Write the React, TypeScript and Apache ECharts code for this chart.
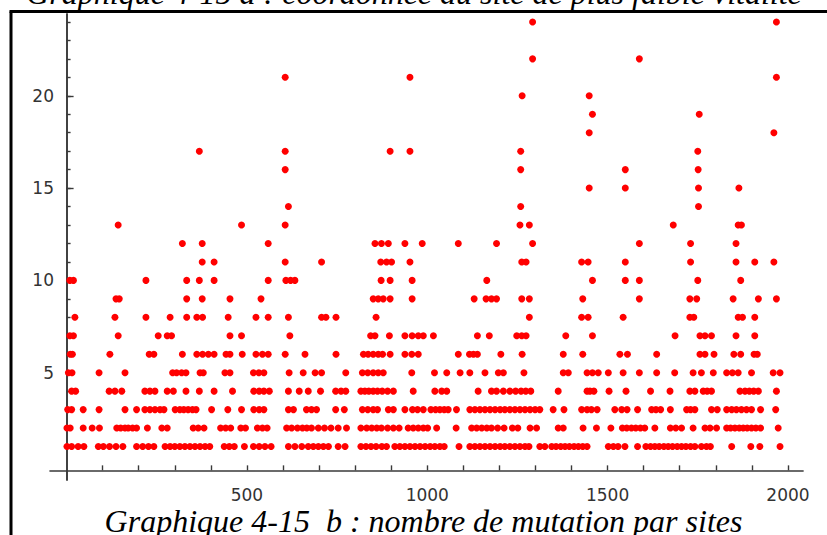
import { useEffect, useRef } from "react";
import * as echarts from "echarts";

// Site coordinates (x) for each number of mutations (y = 1 .. 24)
const sites1 = [1, 14, 32, 48, 88, 102, 119, 137, 156, 194, 211, 227, 242, 273, 287, 300, 314, 328, 342, 356, 370, 384, 397, 437, 451, 465, 493, 518, 534, 550, 567, 615, 633, 652, 670, 684, 698, 712, 726, 753, 772, 816, 830, 844, 858, 874, 887, 910, 924, 938, 952, 966, 980, 994, 1008, 1021, 1035, 1047, 1088, 1118, 1132, 1146, 1160, 1174, 1188, 1202, 1215, 1229, 1243, 1257, 1271, 1282, 1312, 1326, 1345, 1357, 1370, 1382, 1394, 1407, 1419, 1431, 1443, 1502, 1516, 1529, 1548, 1583, 1606, 1619, 1631, 1643, 1656, 1668, 1680, 1693, 1705, 1717, 1730, 1742, 1760, 1774, 1785, 1844, 1897, 1922, 1978];
const sites2 = [1, 10, 46, 71, 91, 139, 150, 162, 171, 183, 194, 224, 264, 279, 351, 365, 381, 427, 441, 455, 483, 496, 529, 543, 556, 610, 624, 640, 654, 666, 679, 698, 715, 733, 753, 776, 816, 832, 846, 860, 873, 890, 906, 922, 947, 961, 975, 989, 1001, 1026, 1080, 1123, 1137, 1151, 1165, 1178, 1195, 1213, 1236, 1251, 1285, 1303, 1363, 1377, 1432, 1469, 1509, 1541, 1553, 1566, 1578, 1591, 1603, 1631, 1674, 1689, 1705, 1737, 1770, 1784, 1802, 1830, 1841, 1853, 1865, 1876, 1887, 1899, 1911, 1924, 1973];
const sites3 = [3, 14, 46, 90, 162, 194, 217, 231, 245, 259, 270, 301, 314, 325, 337, 349, 359, 402, 447, 485, 519, 534, 547, 615, 629, 665, 679, 693, 746, 770, 820, 835, 850, 862, 892, 906, 938, 959, 973, 989, 1010, 1023, 1035, 1047, 1058, 1081, 1118, 1132, 1146, 1160, 1174, 1188, 1202, 1215, 1229, 1243, 1257, 1271, 1285, 1299, 1312, 1349, 1379, 1428, 1443, 1455, 1471, 1520, 1539, 1554, 1583, 1622, 1634, 1647, 1674, 1719, 1730, 1742, 1788, 1804, 1830, 1844, 1857, 1871, 1885, 1899, 1924, 1966];
const sites4 = [14, 25, 118, 134, 153, 217, 231, 245, 279, 296, 331, 368, 409, 460, 519, 534, 547, 562, 615, 645, 670, 704, 746, 761, 774, 816, 827, 838, 850, 862, 875, 890, 906, 961, 1021, 1040, 1054, 1141, 1178, 1192, 1211, 1229, 1245, 1260, 1273, 1287, 1363, 1443, 1451, 1462, 1504, 1551, 1619, 1673, 1728, 1742, 1765, 1776, 1788, 1867, 1881, 1893, 1905, 1918, 1968];
const sites5 = [5, 15, 90, 162, 294, 305, 319, 331, 370, 379, 439, 453, 518, 533, 547, 617, 656, 689, 707, 774, 820, 835, 850, 864, 878, 957, 1020, 1054, 1091, 1118, 1160, 1197, 1211, 1268, 1377, 1391, 1443, 1458, 1474, 1502, 1543, 1588, 1636, 1686, 1737, 1760, 1793, 1830, 1846, 1862, 1899, 1959, 1978];
const sites6 = [10, 16, 120, 229, 242, 321, 361, 377, 393, 409, 442, 453, 487, 525, 543, 559, 606, 661, 747, 823, 836, 850, 864, 876, 897, 938, 957, 975, 1086, 1117, 1128, 1139, 1204, 1263, 1377, 1431, 1534, 1555, 1636, 1756, 1770, 1795, 1850, 1869, 1906, 1915];
const sites7 = [9, 19, 143, 254, 279, 291, 453, 485, 619, 843, 855, 895, 938, 958, 975, 989, 1017, 1139, 1172, 1248, 1262, 1274, 1384, 1458, 1687, 1756, 1770, 1788, 1856, 1908];
const sites8 = [23, 134, 220, 287, 333, 361, 377, 448, 525, 559, 615, 707, 719, 747, 858, 1283, 1428, 1446, 1543, 1728, 1739, 1862, 1874, 1908];
const sites9 = [137, 146, 333, 376, 453, 539, 850, 864, 878, 897, 958, 1130, 1163, 1178, 1192, 1262, 1283, 1431, 1588, 1728, 1747, 1848, 1918, 1968];
const sites10 = [9, 19, 220, 333, 368, 409, 559, 608, 621, 633, 872, 897, 958, 1165, 1458, 1549, 1588, 1750, 1869];
const sites11 = [376, 409, 606, 707, 871, 887, 901, 952, 1262, 1274, 1428, 1446, 1549, 1730, 1856, 1908, 1961];
const sites12 = [321, 376, 559, 855, 873, 892, 938, 986, 1086, 1192, 1292, 1588, 1730, 1856];
const sites13 = [143, 485, 606, 1257, 1283, 1682, 1862, 1871];
const sites14 = [615, 1259, 1752];
const sites15 = [1449, 1549, 1752, 1864];
const sites16 = [606, 1259, 1549, 1751];
const sites17 = [368, 606, 897, 952, 1259, 1750];
const sites18 = [1449, 1961];
const sites19 = [1458, 1754];
const sites20 = [1263, 1449];
const sites21 = [606, 952, 1968];
const sites22 = [1292, 1588];
const sites23: number[] = [];
const sites24 = [1292, 1968];

const sitesByCount = [
  sites1, sites2, sites3, sites4, sites5, sites6, sites7, sites8, sites9, sites10, sites11, sites12,
  sites13, sites14, sites15, sites16, sites17, sites18, sites19, sites20, sites21, sites22, sites23, sites24,
];

// Axis ticks and labels
const xMinorTicks = [100, 200, 300, 400, 500, 600, 700, 800, 900, 1000, 1100, 1200, 1300, 1400, 1500, 1600, 1700, 1800, 1900, 2000];
const xLabels = [500, 1000, 1500, 2000];
const yMinorTicks = [1, 2, 3, 4, 5, 6, 7, 8, 9, 10, 11, 12, 13, 14, 15, 16, 17, 18, 19, 20, 21, 22, 23, 24];
const yLabels = [5, 10, 15, 20];

const topCaption = "Graphique 4-15 a : coordonnée du site de plus faible vitalité";
const bottomCaption = "Graphique 4-15 \u00a0b : nombre de mutation par sites";

const X_MIN = -46;
const X_MAX = 2042;
const Y_MIN = -0.81;
const Y_MAX = 24.43;
const X_AXIS_AT = -0.29;

export default function App() {
  const ref = useRef<HTMLDivElement>(null);

  useEffect(() => {
    if (!ref.current) return;
    const chart = echarts.init(ref.current, undefined, { renderer: "svg" });

    const data: number[][] = [];
    sitesByCount.forEach((sites, i) => {
      sites.forEach((s) => data.push([s, i + 1]));
    });

    const axisColor = "#3a3a3a";
    const labelStyle = {
      fontFamily: "DejaVu Sans",
      fontSize: 17,
      color: "#333",
      formatter: (v: number) => String(v),
    };

    chart.setOption({
      animation: false,
      backgroundColor: "#ffffff",
      grid: { left: 50, right: 23.9, top: 14, bottom: 55.05, containLabel: false },
      xAxis: [
        {
          type: "value",
          min: X_MIN,
          max: X_MAX,
          splitLine: { show: false },
          axisLine: { show: true, onZero: true, onZeroAxisIndex: 1, lineStyle: { color: axisColor, width: 1.6 } },
          axisTick: { show: true, inside: true, length: 5, customValues: xMinorTicks, lineStyle: { color: axisColor, width: 1.4 } },
          axisLabel: { show: true, customValues: xLabels, margin: 7, ...labelStyle },
        },
      ],
      yAxis: [
        {
          type: "value",
          min: Y_MIN,
          max: Y_MAX,
          position: "left",
          splitLine: { show: false },
          axisLine: { show: true, onZero: true, onZeroAxisIndex: 0, lineStyle: { color: axisColor, width: 1.6 } },
          axisTick: { show: true, inside: true, length: 4, customValues: yMinorTicks, lineStyle: { color: axisColor, width: 1.4 } },
          axisLabel: { show: true, customValues: yLabels, margin: -4, ...labelStyle },
        },
        {
          type: "value",
          min: Y_MIN - X_AXIS_AT,
          max: Y_MAX - X_AXIS_AT,
          show: false,
          splitLine: { show: false },
        },
        {
          type: "value",
          min: Y_MIN,
          max: Y_MAX,
          position: "left",
          splitLine: { show: false },
          axisLine: { show: true, onZero: true, onZeroAxisIndex: 0, lineStyle: { color: axisColor, width: 1.6 } },
          axisTick: { show: true, inside: true, length: 7, customValues: yLabels, lineStyle: { color: axisColor, width: 1.4 } },
          axisLabel: { show: false },
        },
      ],
      series: [
        {
          type: "scatter",
          xAxisIndex: 0,
          yAxisIndex: 0,
          data,
          symbol: "circle",
          symbolSize: 7,
          clip: false,
          itemStyle: { color: "#ff0000", opacity: 1 },
          silent: true,
        },
      ],
      graphic: [
        {
          type: "line",
          shape: { x1: 11, y1: 11.5, x2: 11, y2: 540 },
          style: { stroke: "#000", lineWidth: 3 },
          z: 100,
        },
        {
          type: "line",
          shape: { x1: 9.5, y1: 11.5, x2: 830, y2: 11.5 },
          style: { stroke: "#000", lineWidth: 3 },
          z: 100,
        },
        {
          type: "text",
          x: 414,
          y: -6.8,
          style: {
            text: topCaption,
            font: 'italic 32px "Liberation Serif"',
            fill: "#000",
            textAlign: "center",
            textVerticalAlign: "middle",
          },
          z: 100,
        },
        {
          type: "text",
          x: 423.5,
          y: 521,
          style: {
            text: bottomCaption,
            font: 'italic 32px "Liberation Serif"',
            fill: "#000",
            textAlign: "center",
            textVerticalAlign: "middle",
          },
          z: 100,
        },
      ],
    });

    return () => chart.dispose();
  }, []);

  return (
    <div
      ref={ref}
      style={{ position: "absolute", left: 0, top: 0, width: 827, height: 535, background: "#fff" }}
    />
  );
}
